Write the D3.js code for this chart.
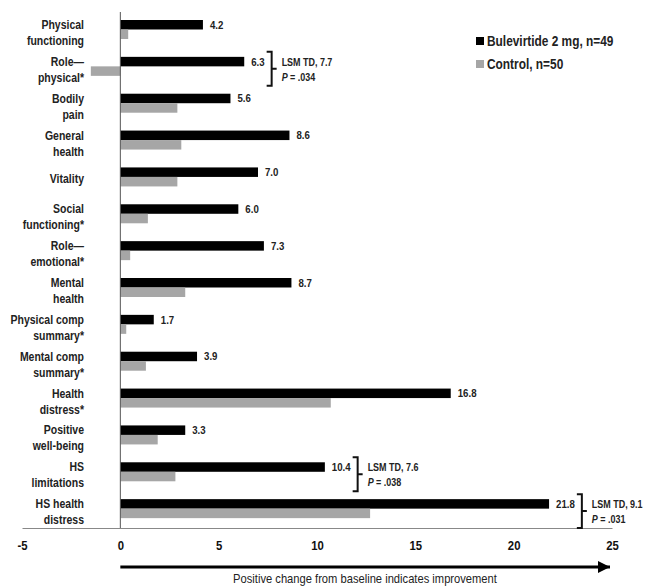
<!DOCTYPE html>
<html><head><meta charset="utf-8">
<script src="https://cdn.jsdelivr.net/npm/d3@7"></script>
<style>
body{margin:0;background:#fff;}
svg{display:block;}
text{font-family:"Liberation Sans",Arial,sans-serif;}
</style></head>
<body>
<svg id="c" width="648" height="587"></svg>
<script>
const categories = [
  ["Physical","functioning"],["Role\u2014","physical*"],["Bodily","pain"],["General","health"],
  ["Vitality"],["Social","functioning*"],["Role\u2014","emotional*"],["Mental","health"],
  ["Physical comp","summary*"],["Mental comp","summary*"],["Health","distress*"],
  ["Positive","well-being"],["HS","limitations"],["HS health","distress"]
];
const bulevirtide = [4.2,6.3,5.6,8.6,7.0,6.0,7.3,8.7,1.7,3.9,16.8,3.3,10.4,21.8];
const control = [0.4,-1.5,2.9,3.1,2.9,1.4,0.5,3.3,0.3,1.3,10.7,1.9,2.8,12.7];
const seriesNames = ["Bulevirtide 2 mg, n=49","Control, n=50"];
const seriesColors = ["#000000","#a6a6a6"];
const xTicks = [-5,0,5,10,15,20,25];
const annotations = [
  {index:1, lines:["LSM TD, 7.7",".034"]},
  {index:12, lines:["LSM TD, 7.6",".038"]},
  {index:13, lines:["LSM TD, 9.1",".031"]}
];
const caption = "Positive change from baseline indicates improvement";

const NARROW = 0.84;
const svg = d3.select("#c");
const x = d3.scaleLinear().domain([-5,25]).range([22,612]);
const y = d3.scaleBand().domain(d3.range(categories.length)).range([12,528]).paddingInner(0);
const sub = d3.scaleBand().domain([0,1]).range([8,27]);

function ntext(g, px, py, size, opts={}){
  const t = g.append("text")
    .attr("transform",`translate(${px},${py}) scale(${opts.sx||NARROW},1)`)
    .attr("font-size",size).attr("fill",opts.fill||"#222")
    .attr("font-weight",opts.weight||"bold")
    .attr("text-anchor",opts.anchor||"start");
  return t;
}

// bars
const series = [bulevirtide, control];
series.forEach((vals,si)=>{
  svg.append("g").selectAll("rect").data(vals).join("rect")
    .attr("x",d=>x(Math.min(0,d)))
    .attr("y",(d,i)=>y(i)+sub(si))
    .attr("width",d=>Math.abs(x(d)-x(0)))
    .attr("height",sub.bandwidth())
    .attr("fill",seriesColors[si]);
});

// zero line
svg.append("line").attr("x1",x(0)).attr("x2",x(0)).attr("y1",12).attr("y2",528)
  .attr("stroke","#555").attr("stroke-width",1);

// bottom axis
const axis = d3.axisBottom(x).tickValues(xTicks).tickSize(0).tickPadding(12).tickFormat(d=>String(d));
const ag = svg.append("g").attr("transform","translate(0,528)").call(axis);
ag.select(".domain").attr("stroke","#888").attr("stroke-width",1);
ag.selectAll(".tick text").attr("font-size",13.5).attr("font-weight","bold").attr("fill","#111")
  .attr("font-family",null).style("font-family",'"Liberation Sans",Arial,sans-serif')
  .attr("transform",`scale(${NARROW},1)`).attr("x",0);

// category labels
const cl = svg.append("g");
categories.forEach((lines,i)=>{
  const base = lines.length===1 ? y(i)+13+4+7 : y(i)+13+4;
  lines.forEach((ln,k)=>{
    ntext(cl, 84, base+k*16, 12.5, {anchor:"end"}).text(ln);
  });
});

// value labels + brackets
const vl = svg.append("g");
bulevirtide.forEach((v,i)=>{
  const lx = x(v)+7;
  const t = ntext(vl, lx, y(i)+sub(0)+sub.bandwidth()/2+4, 11.5).text(d3.format(".1f")(v));
  const ann = annotations.find(a=>a.index===i);
  if(ann){
    const w = t.node().getComputedTextLength()*NARROW;
    const bl = lx+w+2, bv = bl+5, top = y(i)+3, bot = y(i)+y.bandwidth(), mid=(top+bot)/2;
    vl.append("path").attr("d",`M${bl},${top}H${bv}V${bot}H${bl}M${bv},${mid}H${bv+5}`)
      .attr("fill","none").attr("stroke","#111").attr("stroke-width",2);
    const tx = bv+10;
    ntext(vl, tx, mid-3, 11.2, {sx:0.8}).text(ann.lines[0]);
    const t2 = ntext(vl, tx, mid+12, 11.2, {sx:0.8});
    t2.append("tspan").attr("font-style","italic").text("P");
    t2.append("tspan").text(" = "+ann.lines[1]);
  }
});

// legend
const lg = svg.append("g");
seriesNames.forEach((n,i)=>{
  const cy = 41+i*23;
  lg.append("rect").attr("x",476).attr("y",cy-4).attr("width",8).attr("height",8).attr("fill",seriesColors[i]);
  ntext(lg, 487, cy+5, 14.5, {sx:0.82}).text(n);
});

// arrow
svg.append("defs").append("marker").attr("id","ah").attr("viewBox","0 0 10 10").attr("refX",10).attr("refY",5)
  .attr("markerWidth",6).attr("markerHeight",4).attr("orient","auto").attr("markerUnits","strokeWidth")
  .append("path").attr("d","M0,0L10,5L0,10z").attr("fill","#000");
svg.append("line").attr("x1",x(0)).attr("x2",x(25)-2).attr("y1",567).attr("y2",567)
  .attr("stroke","#000").attr("stroke-width",3).attr("marker-end","url(#ah)");
ntext(svg, 365, 583, 13, {anchor:"middle", weight:"normal", sx:0.86}).text(caption);
</script>
</body></html>
